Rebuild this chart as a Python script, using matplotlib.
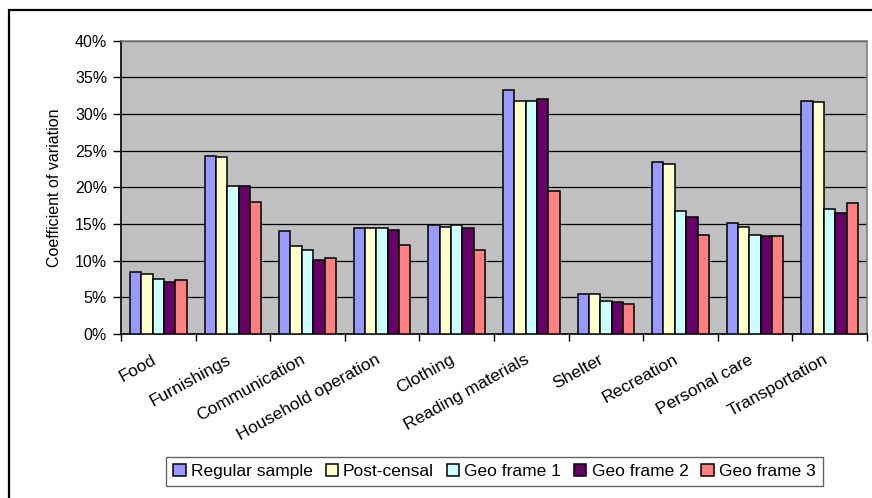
import numpy as np
import matplotlib
matplotlib.use("Agg")
import matplotlib.pyplot as plt
import matplotlib.transforms as mtransforms
from matplotlib.ticker import FuncFormatter, MultipleLocator
from matplotlib.patches import Rectangle

plt.rcParams['font.family'] = ['Liberation Sans', 'DejaVu Sans']

categories = ['Food', 'Furnishings', 'Communication', 'Household operation',
              'Clothing', 'Reading materials', 'Shelter', 'Recreation',
              'Personal care', 'Transportation']
series_names = ['Regular sample', 'Post-censal', 'Geo frame 1', 'Geo frame 2', 'Geo frame 3']

regular = [8.4, 24.3, 14.0, 14.4, 14.8, 33.3, 5.4, 23.4, 15.1, 31.8]
post_censal = [8.2, 24.1, 12.0, 14.4, 14.6, 31.8, 5.4, 23.2, 14.6, 31.6]
geo1 = [7.5, 20.2, 11.4, 14.4, 14.8, 31.8, 4.5, 16.8, 13.5, 17.0]
geo2 = [7.1, 20.2, 10.1, 14.2, 14.4, 32.0, 4.3, 15.9, 13.3, 16.5]
geo3 = [7.3, 18.0, 10.3, 12.2, 11.4, 19.5, 4.1, 13.5, 13.3, 17.8]

colors = ['#9999FF', '#FFFFCC', '#CCFFFF', '#660066', '#FF8080']

fig = plt.figure(figsize=(8.72, 4.98), dpi=100)
ax = fig.add_axes([121 / 872, 1 - 334 / 498, (867 - 121) / 872, (334 - 40.7) / 498])

# outer chart frame
fig.patches.append(Rectangle((9 / 872, -0.1), 1.2, 1 - 10 / 498 + 0.1,
                             transform=fig.transFigure, fill=False,
                             edgecolor='black', linewidth=1.6))

ax.set_facecolor('#C0C0C0')
x = np.arange(len(categories))
bw = 0.152
all_series = [regular, post_censal, geo1, geo2, geo3]
for i, (vals, name, c) in enumerate(zip(all_series, series_names, colors)):
    ax.bar(x + (i - 2) * bw, vals, width=bw, color=c, edgecolor='black',
           linewidth=1.1, label=name, zorder=3)

ax.set_xlim(-0.5, len(categories) - 0.5)
ax.set_ylim(0, 40)
ax.yaxis.set_major_locator(MultipleLocator(5))
ax.yaxis.set_major_formatter(FuncFormatter(lambda v, p: f'{v:.0f}%'))
ax.grid(axis='y', color='black', linewidth=0.9, zorder=1)
ax.set_axisbelow(True)

ax.set_xticks(np.arange(len(categories) + 1) - 0.5)
ax.set_xticklabels([])
ax.tick_params(axis='x', length=5, width=1, direction='out')
ax.tick_params(axis='y', length=6, width=1, direction='out', labelsize=11.5, pad=4)

# rotated category labels
offset = mtransforms.ScaledTranslation(-7 / 100, -18 / 100, fig.dpi_scale_trans)
trans = mtransforms.blended_transform_factory(ax.transData, ax.transAxes) + offset
for xi, lab in zip(x, categories):
    ax.text(xi, 0, lab, transform=trans, rotation=29, rotation_mode='anchor',
            ha='right', va='top', fontsize=12.5)

for s in ['left', 'bottom']:
    ax.spines[s].set_color('black')
    ax.spines[s].set_linewidth(1.2)
for s in ['top', 'right']:
    ax.spines[s].set_color('#808080')
    ax.spines[s].set_linewidth(1.2)

ax.set_ylabel('Coefficient of variation', fontsize=11.5, labelpad=9)

leg = fig.legend(loc='center', bbox_to_anchor=(494.5 / 872, 1 - 471.5 / 498),
                 ncol=5, fontsize=12.5, frameon=True, fancybox=False,
                 handlelength=0.7, handleheight=0.7, handletextpad=0.3,
                 columnspacing=0.75, borderpad=0.4)
leg.get_frame().set_edgecolor('#404040')
leg.get_frame().set_linewidth(1.0)

fig.savefig('out.png', dpi=100)
